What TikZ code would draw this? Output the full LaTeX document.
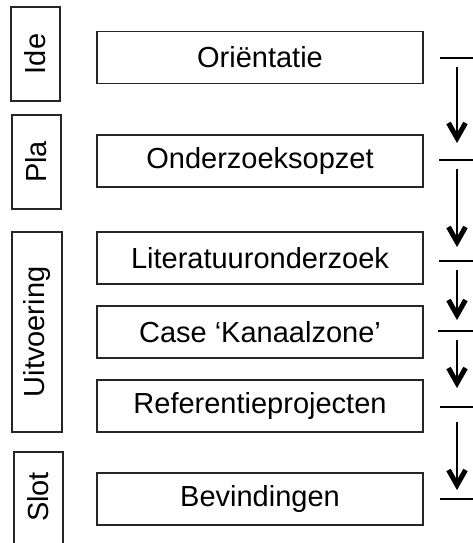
\documentclass[tikz,border=0pt]{standalone}
\usepackage{fontspec}
\setmainfont{Liberation Sans}
\begin{document}
\begin{tikzpicture}[x=1pt,y=1pt,
  font=\fontsize{29}{34}\selectfont,
  stepbox/.style={draw=black!85,line width=1.3pt,inner sep=0pt,minimum width=326pt,minimum height=52pt},
  phasebox/.style={draw=black!85,line width=1.3pt,inner sep=0pt,rotate=90},
  sep/.style={line width=1.4pt},
  flow/.style={line width=2.3pt},
  vtip/.style={line width=5pt,miter limit=10}]
\useasboundingbox (0,0) rectangle (473,543);
\clip (0,0) rectangle (473,543);
% phase boxes (y_tikz = 543 - y_px)
\node[phasebox,minimum width=94pt,minimum height=49pt] (ide) at (35.5,489) {Ide};
\node[phasebox,minimum width=94pt,minimum height=49pt] (pla) at (36.5,381) {Pla};
\node[phasebox,minimum width=200pt,minimum height=50pt] (uit) at (37,211) {Uitvoering};
\node[phasebox,minimum width=120pt,minimum height=49pt] (slotbox) at (38.5,31) {};
\node[rotate=90] (slot) at (38.5,46) {Slot};
% step boxes
\node[stepbox] (s1) at (260,485.5) {Oriëntatie};
\node[stepbox] (s2) at (260,382) {Onderzoeksopzet};
\node[stepbox] (s3) at (260,285) {Literatuuronderzoek};
\node[stepbox] (s4) at (260,211) {Case ‘Kanaalzone’};
\node[stepbox] (s5) at (260,137) {Referentieprojecten};
\node[stepbox] (s6) at (260,44) {Bevindingen};
% separator lines
\coordinate (l1) at (440,485);
\coordinate (l2) at (439,383);
\coordinate (l3) at (439,282);
\coordinate (l4) at (438,212);
\coordinate (l5) at (440,136);
\coordinate (l6) at (440,44);
\foreach \i in {1,...,6} \draw[sep] (l\i) -- ++(40,0);
% arrows
\coordinate (a1) at (457,476); \coordinate (b1) at (457,405);
\coordinate (a2) at (457,374); \coordinate (b2) at (457,301);
\coordinate (a3) at (457,273); \coordinate (b3) at (457,228);
\coordinate (a4) at (457,203); \coordinate (b4) at (457,160);
\coordinate (a5) at (457,121); \coordinate (b5) at (457,58);
\foreach \i in {1,...,5} {
  \draw[flow] (a\i) -- (b\i);
  \draw[vtip] (b\i) ++(-8.5,15) -- (b\i) -- ++(8.5,15);
}
\end{tikzpicture}
\end{document}
